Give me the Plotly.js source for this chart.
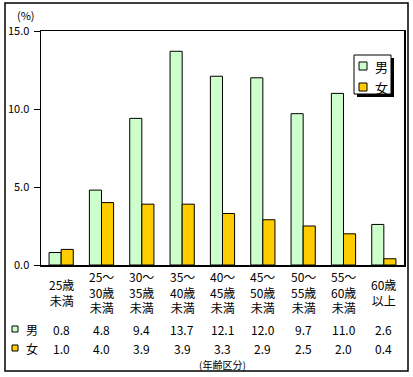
<!DOCTYPE html>
<html><head><meta charset="utf-8">
<script src="https://cdn.plot.ly/plotly-3.0.1.min.js"></script>
<style>body{margin:0;background:#fff}#c{width:413px;height:377px}</style>
</head><body><div id="c"></div>
<script>
var categories = ["25歳<br>未満","25～<br>30歳<br>未満","30～<br>35歳<br>未満","35～<br>40歳<br>未満","40～<br>45歳<br>未満","45～<br>50歳<br>未満","50～<br>55歳<br>未満","55～<br>60歳<br>未満","60歳<br>以上"];
var male = [0.8,4.8,9.4,13.7,12.1,12.0,9.7,11.0,2.6];
var female = [1.0,4.0,3.9,3.9,3.3,2.9,2.5,2.0,0.4];
var seriesNames = ["男","女"];
var colors = ["#CCFFCC","#FFCC00"];
var yTicks = [0,5,10,15];

var F = "Noto Sans CJK JP, sans-serif";
var L=41, R=404, T=31, B=265;
function xp(px){return (px-L)/(R-L);}
function yp(py){return (B-py)/(B-T);}

var idx = categories.map(function(_,i){return i;});
var traces = [male,female].map(function(v,k){
  return {type:"bar", x:idx, y:v, name:seriesNames[k], showlegend:false,
    marker:{color:colors[k], line:{color:"#000",width:1}}};
});

var ann = [], shapes = [];
// category labels
categories.forEach(function(c,i){
  ann.push({xref:"x", yref:"paper", x:i, y:yp(292), text:c, showarrow:false,
    xanchor:"center", yanchor:"middle", font:{family:F,size:12,color:"#000"}});
});
// data table
[male,female].forEach(function(v,k){
  var ry = k===0 ? 329 : 348;
  v.forEach(function(val,i){
    ann.push({xref:"x", yref:"paper", x:i, y:yp(ry), text:val.toFixed(1), showarrow:false,
      xanchor:"center", yanchor:"middle", font:{family:F,size:12,color:"#000"}});
  });
  shapes.push({type:"rect", xref:"paper", yref:"paper", x0:xp(12), x1:xp(18), y0:yp(ry+3), y1:yp(ry-3),
    fillcolor:colors[k], line:{color:"#000",width:1}});
  ann.push({xref:"paper", yref:"paper", x:xp(24), y:yp(ry), text:seriesNames[k], showarrow:false,
    xanchor:"left", yanchor:"middle", font:{family:F,size:12,color:"#000"}});
});
ann.push({xref:"paper", yref:"paper", x:xp(222), y:yp(364), text:"(年齢区分)", showarrow:false,
  xanchor:"center", yanchor:"middle", font:{family:F,size:10,color:"#000"}});
ann.push({xref:"paper", yref:"paper", x:xp(26), y:yp(15), text:"(%)", showarrow:false,
  xanchor:"center", yanchor:"middle", font:{family:F,size:11,color:"#000"}});
// legend
shapes.push({type:"rect", xref:"paper", yref:"paper", x0:xp(357), x1:xp(394), y0:yp(97), y1:yp(58),
  fillcolor:"#000", line:{width:0}});
shapes.push({type:"rect", xref:"paper", yref:"paper", x0:xp(354), x1:xp(391), y0:yp(94), y1:yp(55),
  fillcolor:"#fff", line:{color:"#000",width:1}});
[66,87].forEach(function(ly,k){
  shapes.push({type:"rect", xref:"paper", yref:"paper", x0:xp(359), x1:xp(367), y0:yp(ly+4), y1:yp(ly-4),
    fillcolor:colors[k], line:{color:"#000",width:1}});
  ann.push({xref:"paper", yref:"paper", x:xp(373), y:yp(ly), text:seriesNames[k], showarrow:false,
    xanchor:"left", yanchor:"middle", font:{family:F,size:13,color:"#000"}});
});
// outer border
shapes.push({type:"rect", xref:"paper", yref:"paper", x0:xp(5), x1:xp(408), y0:yp(371), y1:yp(3),
  fillcolor:"rgba(0,0,0,0)", line:{color:"#000",width:1.5}, layer:"below"});

var layout = {
  width:413, height:377, margin:{l:L, r:413-R, t:T, b:377-B},
  paper_bgcolor:"#fff", plot_bgcolor:"#fff",
  barmode:"group", bargap:0.4, bargroupgap:0,
  xaxis:{range:[-0.5,8.5], showticklabels:false, ticks:"", showgrid:false, zeroline:false,
    showline:true, mirror:true, linecolor:"#000", linewidth:1.5, fixedrange:true},
  yaxis:{range:[0,15], tickvals:yTicks, tickformat:".1f", ticks:"outside", ticklen:6, tickcolor:"#000",
    showgrid:false, zeroline:false, showline:true, mirror:true, linecolor:"#000", linewidth:1.5,
    tickfont:{family:F,size:11,color:"#000"}, ticklabelstandoff:2},
  annotations:ann, shapes:shapes, showlegend:false, font:{family:F}
};
Plotly.newPlot("c", traces, layout, {displayModeBar:false, staticPlot:true});
</script></body></html>
